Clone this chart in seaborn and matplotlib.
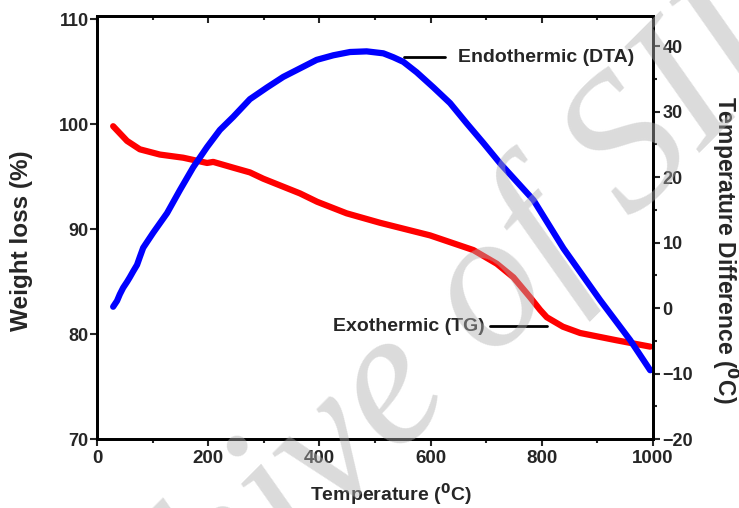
import numpy as np
import pandas as pd
import matplotlib
matplotlib.use('Agg')
import matplotlib.pyplot as plt
import seaborn as sns

# TG curve (left axis, weight loss %)
tg_temp = [29, 54, 77, 113, 155, 198, 209, 245, 275, 299, 365, 396, 449, 509, 599,
           677, 719, 749, 779, 797, 809, 838, 869, 935, 995]
tg_weight = [99.8, 98.4, 97.6, 97.1, 96.8, 96.3, 96.4, 95.85, 95.4, 94.8, 93.4, 92.6,
             91.5, 90.6, 89.4, 88.0, 86.7, 85.4, 83.5, 82.3, 81.6, 80.7, 80.1, 79.4, 78.8]

# DTA curve (right axis, temperature difference)
dta_temp = [29, 36, 41, 47, 54, 59, 65, 72, 77, 83, 101, 126, 149, 173, 198, 221, 245,
            275, 306, 335, 365, 395, 425, 455, 485, 515, 533, 551, 575, 605, 635, 665,
            695, 725, 785, 839, 905, 959, 995]
dta_diff = [0.2, 1.1, 2.1, 3.1, 4.0, 4.7, 5.6, 6.6, 7.8, 9.2, 11.5, 14.5, 18.0, 21.5,
            24.6, 27.2, 29.2, 31.9, 33.7, 35.3, 36.6, 37.9, 38.6, 39.1, 39.2, 38.9, 38.3,
            37.6, 36.0, 33.7, 31.3, 28.2, 25.2, 22.1, 16.5, 9.1, 1.2, -4.9, -9.5]

x_ticks = [0, 200, 400, 600, 800, 1000]
left_ticks = [70, 80, 90, 100, 110]
right_ticks = [-20, -10, 0, 10, 20, 30, 40]

# annotation leader lines
dta_label_line_x = [552, 626]
dta_label_line_y = [38.3, 38.3]
tg_label_line_x = [707, 809]
tg_label_line_y = [80.75, 80.75]

sns.set_theme(style='ticks')
plt.rcParams['font.family'] = ['Liberation Sans', 'DejaVu Sans']
plt.rcParams['font.weight'] = 'bold'
plt.rcParams['mathtext.default'] = 'bf'

tg = pd.DataFrame({'T': tg_temp, 'W': tg_weight})
dta = pd.DataFrame({'T': dta_temp, 'D': dta_diff})

fig = plt.figure(figsize=(7.39, 5.08), dpi=100)
ax = fig.add_axes([0.1313, 0.1358, 0.7523, 0.8327])
ax2 = ax.twinx()

sns.lineplot(data=tg, x='T', y='W', ax=ax, color='#ff0000', linewidth=4.5,
             marker='s', markersize=3.5, markeredgewidth=0)
sns.lineplot(data=dta, x='T', y='D', ax=ax2, color='#0000ff', linewidth=4.5,
             marker='s', markersize=3.5, markeredgewidth=0)

ax.set_xlim(0, 1000)
ax.set_ylim(70, 110.3)
ax2.set_ylim(-20, 44.6)

ax.set_xticks(x_ticks)
ax.set_xticks(np.arange(100, 1000, 200), minor=True)
ax.set_yticks(left_ticks)
ax2.set_yticks(right_ticks)
ax2.set_yticks(np.arange(-15, 45, 10), minor=True)

ax.tick_params(axis='x', which='major', direction='out', length=5, width=1.5,
               top=True, labelsize=13.5, pad=3)
ax.tick_params(axis='x', which='minor', direction='out', length=3, width=1.5, top=True)
ax.tick_params(axis='y', which='major', direction='out', length=5, width=1.5,
               labelsize=13, pad=1)
ax2.tick_params(axis='y', which='major', direction='out', length=5, width=1.5,
                labelsize=13, pad=2)
ax2.tick_params(axis='y', which='minor', direction='out', length=3, width=1.5)
# top ticks point inward
for t in ax.xaxis.get_major_ticks() + ax.xaxis.get_minor_ticks():
    t.tick2line.set_marker(3)

for a in (ax, ax2):
    for s in a.spines.values():
        s.set_linewidth(2)
        s.set_color('black')
    for lbl in a.get_xticklabels() + a.get_yticklabels():
        lbl.set_fontweight('bold')

ax.set_xlabel('Temperature ($^0$C)', fontsize=14, fontweight='bold')
ax.xaxis.set_label_coords(0.529, -0.1)
ax.set_ylabel('Weight loss (%)', fontsize=17.5, fontweight='bold')
ax.yaxis.set_label_coords(-0.115, 0.47)
ax2.set_ylabel('Temperature Difference ($^0$C)', fontsize=16.5, fontweight='bold',
               rotation=-90, va='center')
ax2.yaxis.set_label_coords(1.13, 0.447)

ax2.plot(dta_label_line_x, dta_label_line_y, color='black', linewidth=2)
ax2.text(649, 38.3, 'Endothermic (DTA)', fontsize=14, fontweight='bold',
         ha='left', va='center')
ax.plot(tg_label_line_x, tg_label_line_y, color='black', linewidth=2)
ax.text(698, 80.75, 'Exothermic (TG)', fontsize=14, fontweight='bold',
        ha='right', va='center')

# watermark
fig.text(0.600, 0.172, 'Archive of SID', fontsize=140, family='Liberation Serif',
         style='italic', fontweight='normal', color='#b0b0b0', alpha=0.45,
         rotation=45, rotation_mode='anchor', ha='center', va='baseline', zorder=10)

fig.savefig('out.png', dpi=100)
